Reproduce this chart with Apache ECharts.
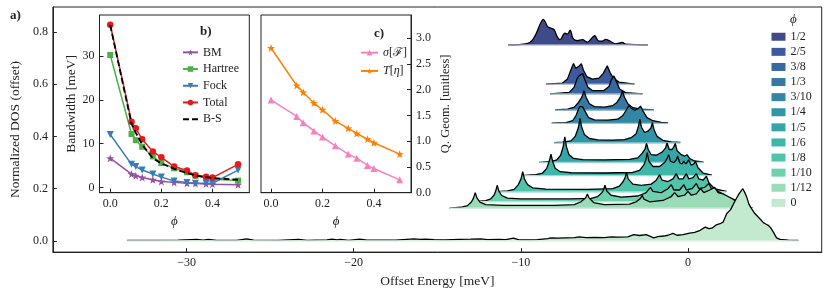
<!DOCTYPE html>
<html><head><meta charset="utf-8">
<script src="https://cdn.jsdelivr.net/npm/echarts@6/dist/echarts.min.js"></script>
<style>html,body{margin:0;padding:0;background:#fff}#c{width:830px;height:293px}</style>
</head><body><div id="c"></div>
<script>
// ---------------- DATA ----------------
const phiLabels = ['1/2','2/5','3/8','1/3','3/10','1/4','1/5','1/6','1/8','1/10','1/12','0'];
const offsets   = [0.75, 0.6, 0.5625, 0.5, 0.45, 0.375, 0.3, 0.25, 0.1875, 0.15, 0.125, 0];

const dos_1_2 = [[-10.75,0],[-9.64,0.005],[-9.34,0.016],[-9.05,0.048],[-8.85,0.079],[-8.66,0.098],[-8.54,0.088],[-8.40,0.070],[-8.21,0.064],[-8.01,0.058],[-7.81,0.029],[-7.65,0.020],[-7.37,0.045],[-7.21,0.041],[-7.05,0.056],[-6.88,0.025],[-6.62,0.016],[-6.32,0.020],[-6.02,0.011],[-5.58,0.035],[-5.38,0.016],[-5.13,0.014],[-4.93,0.021],[-4.63,0.013],[-4.33,0.004],[-3.93,0.010],[-3.74,0.003],[-2.41,0]];
const dos_2_5 = [[-8.5,0],[-7.51,0.004],[-7.21,0.02],[-7.01,0.054],[-6.85,0.079],[-6.71,0.06],[-6.62,0.058],[-6.5,0.07],[-6.38,0.078],[-6.26,0.054],[-6.06,0.029],[-5.72,0.019],[-5.33,0.023],[-5.07,0.041],[-4.83,0.07],[-4.67,0.045],[-4.47,0.023],[-4.13,0.008],[-3.2,0]];
const dos_3_8 = [[-8.25,0],[-7.11,0.006],[-6.82,0.025],[-6.62,0.06],[-6.52,0.069],[-6.42,0.063],[-6.3,0.078],[-6.18,0.056],[-5.98,0.025],[-5.72,0.013],[-5.03,0.013],[-4.73,0.028],[-4.57,0.056],[-4.43,0.069],[-4.29,0.048],[-4.09,0.019],[-3.74,0.005],[-2.72,0]];
const dos_1_3 = [[-7.95,0.001],[-7.2,0.004],[-6.8,0.012],[-6.55,0.03],[-6.35,0.05],[-6.22,0.075],[-6.1,0.05],[-5.9,0.025],[-5.6,0.014],[-5.0,0.012],[-4.5,0.018],[-4.25,0.03],[-4.05,0.05],[-3.93,0.073],[-3.8,0.05],[-3.6,0.025],[-3.3,0.01],[-2.8,0.004],[-2.05,0.001]];
const dos_3_10 = [[-8.15,0.001],[-7.3,0.003],[-6.9,0.01],[-6.7,0.03],[-6.55,0.055],[-6.46,0.065],[-6.38,0.058],[-6.3,0.062],[-6.26,0.065],[-6.15,0.045],[-5.95,0.022],[-5.6,0.013],[-4.8,0.012],[-4.2,0.016],[-3.9,0.03],[-3.7,0.05],[-3.54,0.068],[-3.4,0.058],[-3.2,0.05],[-3.0,0.055],[-2.84,0.066],[-2.7,0.048],[-2.45,0.022],[-2.1,0.01],[-1.6,0.004],[-1.19,0.002]];
const dos_1_4 = [[-8.0,0.001],[-7.5,0.003],[-7.0,0.008],[-6.75,0.025],[-6.56,0.058],[-6.46,0.094],[-6.36,0.06],[-6.2,0.032],[-5.9,0.017],[-5.4,0.012],[-4.5,0.011],[-3.8,0.013],[-3.4,0.02],[-3.1,0.035],[-2.98,0.06],[-2.88,0.09],[-2.78,0.06],[-2.6,0.04],[-2.4,0.045],[-2.23,0.056],[-2.13,0.078],[-2.03,0.05],[-1.85,0.025],[-1.5,0.01],[-1.0,0.004],[-0.46,0.002]];
const dos_1_5 = [[-8.9,0.001],[-8.2,0.004],[-7.85,0.01],[-7.62,0.028],[-7.47,0.06],[-7.37,0.098],[-7.27,0.06],[-7.12,0.03],[-6.85,0.016],[-6.3,0.011],[-5,0.01],[-3.5,0.012],[-3.0,0.018],[-2.75,0.035],[-2.58,0.05],[-2.48,0.073],[-2.38,0.05],[-2.2,0.03],[-1.9,0.028],[-1.55,0.04],[-1.35,0.055],[-1.25,0.075],[-1.12,0.05],[-0.95,0.05],[-0.85,0.06],[-0.76,0.073],[-0.65,0.045],[-0.4,0.03],[-0.2,0.025],[-0.06,0.03],[0.1,0.015],[0.4,0.006],[0.93,0.002]];
const dos_1_6 = [[-9.8,0.001],[-9.1,0.004],[-8.7,0.01],[-8.45,0.028],[-8.3,0.055],[-8.2,0.082],[-8.1,0.055],[-7.95,0.028],[-7.65,0.015],[-7.0,0.011],[-5,0.01],[-3.3,0.012],[-2.9,0.02],[-2.65,0.04],[-2.52,0.06],[-2.44,0.088],[-2.34,0.055],[-2.1,0.035],[-1.7,0.035],[-1.4,0.05],[-1.25,0.065],[-1.16,0.08],[-1.05,0.055],[-0.85,0.05],[-0.7,0.06],[-0.62,0.075],[-0.5,0.05],[-0.35,0.045],[-0.26,0.055],[-0.12,0.045],[0.04,0.06],[0.2,0.04],[0.35,0.045],[0.44,0.055],[0.6,0.03],[0.9,0.01],[1.43,0.002]];
const dos_1_8 = [[-11.4,0.001],[-10.8,0.004],[-10.4,0.01],[-10.15,0.028],[-9.99,0.05],[-9.89,0.078],[-9.79,0.05],[-9.6,0.028],[-9.3,0.016],[-8.5,0.011],[-6,0.01],[-4.5,0.013],[-4.1,0.022],[-3.88,0.04],[-3.76,0.055],[-3.68,0.075],[-3.58,0.05],[-3.3,0.03],[-2.8,0.025],[-2.2,0.03],[-1.9,0.045],[-1.7,0.066],[-1.55,0.045],[-1.2,0.04],[-0.9,0.05],[-0.7,0.07],[-0.55,0.05],[-0.3,0.05],[-0.1,0.07],[0.05,0.05],[0.3,0.055],[0.5,0.07],[0.65,0.05],[0.9,0.045],[1.1,0.06],[1.25,0.035],[1.6,0.012],[2.3,0.002]];
const dos_1_10 = [[-12.6,0.001],[-12.1,0.004],[-11.8,0.011],[-11.6,0.026],[-11.5,0.042],[-11.42,0.063],[-11.32,0.042],[-11.15,0.024],[-10.8,0.014],[-10,0.011],[-7,0.011],[-5.8,0.013],[-5.4,0.02],[-5.15,0.035],[-5.05,0.045],[-4.97,0.063],[-4.87,0.042],[-4.6,0.025],[-4.0,0.018],[-3.0,0.022],[-2.5,0.035],[-2.25,0.055],[-2.1,0.04],[-1.6,0.035],[-1.2,0.05],[-1.0,0.065],[-0.85,0.045],[-0.5,0.045],[-0.25,0.065],[-0.1,0.045],[0.25,0.05],[0.5,0.07],[0.65,0.05],[1.0,0.055],[1.25,0.07],[1.4,0.05],[1.8,0.04],[2.2,0.025],[2.6,0.01],[3.2,0.002]];
const dos_1_12 = [[-14.27,0.001],[-13.6,0.004],[-13.2,0.01],[-12.95,0.025],[-12.83,0.04],[-12.73,0.06],[-12.63,0.04],[-12.45,0.024],[-12.1,0.014],[-11,0.011],[-8,0.011],[-6.8,0.014],[-6.4,0.025],[-6.12,0.04],[-6.02,0.055],[-5.92,0.04],[-5.65,0.022],[-5,0.014],[-3.5,0.016],[-3.1,0.025],[-2.84,0.038],[-2.74,0.05],[-2.64,0.035],[-2.3,0.025],[-1.5,0.03],[-1.0,0.045],[-0.8,0.06],[-0.6,0.045],[-0.2,0.05],[0.0,0.065],[0.2,0.05],[0.5,0.055],[0.75,0.075],[0.95,0.06],[1.3,0.07],[1.6,0.08],[1.8,0.06],[2.1,0.055],[2.4,0.045],[2.7,0.035],[3.0,0.02],[3.3,0.008],[3.87,0.002]];
const dos_0 = [[-33.55,0.002],[-32,0.002],[-30.5,0.003],[-29.4,0.006],[-29.0,0.003],[-28.7,0.006],[-28.2,0.002],[-27,0.002],[-26.4,0.008],[-26.0,0.003],[-24.5,0.002],[-23.3,0.006],[-22.8,0.002],[-21.6,0.004],[-21.3,0.007],[-21.0,0.004],[-20.8,0.006],[-20.3,0.002],[-19.65,0.007],[-19.2,0.003],[-17.5,0.003],[-16.4,0.008],[-16.0,0.006],[-15.7,0.007],[-15.2,0.005],[-14.5,0.004],[-13.7,0.006],[-13.0,0.007],[-12.4,0.008],[-12.0,0.005],[-11.3,0.006],[-10.9,0.005],[-10.45,0.011],[-10.1,0.004],[-9.5,0.004],[-9.0,0.005],[-8.4,0.009],[-8.2,0.012],[-7.8,0.011],[-7.3,0.012],[-6.8,0.013],[-6.5,0.016],[-6.1,0.013],[-5.6,0.014],[-5.0,0.013],[-4.6,0.016],[-4.2,0.015],[-3.6,0.016],[-3.25,0.024],[-2.9,0.021],[-2.5,0.024],[-2.05,0.012],[-1.8,0.017],[-1.45,0.019],[-1.2,0.022],[-0.9,0.029],[-0.66,0.022],[-0.3,0.024],[0.1,0.03],[0.4,0.033],[0.73,0.041],[1.03,0.053],[1.25,0.047],[1.43,0.049],[1.7,0.062],[1.92,0.066],[2.1,0.072],[2.32,0.105],[2.55,0.12],[2.82,0.154],[3.05,0.18],[3.28,0.2],[3.4,0.185],[3.52,0.167],[3.65,0.14],[3.81,0.123],[4.0,0.105],[4.11,0.098],[4.3,0.085],[4.51,0.07],[4.65,0.065],[4.8,0.06],[4.95,0.05],[5.1,0.035],[5.3,0.012],[5.5,0.006],[6.0,0.003],[6.6,0.002]];
const ridgeCurves = [dos_1_2, dos_2_5, dos_3_8, dos_1_3, dos_3_10, dos_1_4, dos_1_5, dos_1_6, dos_1_8, dos_1_10, dos_1_12, dos_0];

// inset b
const phiB      = [0, 0.0833, 0.1, 0.125, 0.1667, 0.2, 0.25, 0.3, 0.3333, 0.375, 0.4, 0.5];
const bwBM      = [6.7, 3.1, 2.7, 2.3, 1.8, 1.4, 1.2, 1.0, 0.95, 0.85, 0.8, 0.65];
const bwHartree = [30.2, 12.2, 10.8, 9.3, 7.1, 5.6, 4.4, 3.5, 2.7, 2.2, 1.9, 1.6];
const bwFock    = [12.1, 5.3, 4.8, 4.0, 3.1, 2.4, 1.5, 1.2, 1.0, 1.0, 1.0, 4.0];
const bwTotal   = [37.1, 15.0, 13.5, 11.0, 8.2, 6.9, 4.8, 3.9, 2.8, 2.5, 2.3, 5.3];
const bwBS      = [37.0, 14.5, 12.5, 9.8, 6.7, 5.5, 4.3, 3.3, 2.8, 2.4, 2.2, 1.8];
// inset c
const phiC      = [0, 0.1, 0.125, 0.1667, 0.2, 0.25, 0.3, 0.3333, 0.375, 0.4, 0.5];
const sigmaF    = [1.80, 1.48, 1.36, 1.20, 1.08, 0.91, 0.75, 0.67, 0.53, 0.47, 0.25];
const traceEta  = [2.81, 2.08, 1.95, 1.74, 1.61, 1.39, 1.25, 1.15, 1.04, 0.97, 0.75];

// tick labels
const mainXTicks = [-30, -20, -10, 0];
const mainYTicks = [0, 0.2, 0.4, 0.6, 0.8];
const bXTicks = [0, 0.2, 0.4];
const bYTicks = [0, 10, 20, 30];
const cXTicks = [0, 0.2, 0.4];
const cYTicks = [0, 0.5, 1.0, 1.5, 2.0, 2.5, 3.0];

// ---------------- STYLE ----------------
const ridgeColors = ['#3e4a8a','#3c5a9d','#37689f','#3578a3','#3287a5','#3096a7','#34a6a9','#3eb6aa','#50c4ab','#6fd0ae','#9bdcb8','#c3e9cf'];
const FONT = 'Liberation Serif';
const FS = 12;
const TXT = '#222';
const STAR = 'path://M0,-10L2.35,-3.24L9.51,-3.09L3.8,1.24L5.88,8.09L0,4L-5.88,8.09L-3.8,1.24L-9.51,-3.09L-2.35,-3.24Z';
const cBM='#984ea3', cH='#4daf4a', cF='#377eb8', cT='#e41a1c', cPink='#f781bf', cOr='#ff7f00';

function minus(v){ return v < 0 ? '\u2212' + Math.abs(v) : String(v); }
function lighten(hex, f){
  const n = parseInt(hex.slice(1),16), r=n>>16, g=(n>>8)&255, b=n&255;
  const m = c => Math.round(c + (255-c)*f);
  return 'rgb('+m(r)+','+m(g)+','+m(b)+')';
}
function ax(gridIndex, min, max, ticks, fmt, name, nameGap, extra){
  return Object.assign({
    type:'value', gridIndex, min, max, name, nameGap, nameLocation:'middle',
    axisLine:{show:true, onZero:false, lineStyle:{color:TXT, width:1}},
    splitLine:{show:false},
    axisTick:{show:true, inside:true, length:4, customValues:ticks, lineStyle:{color:TXT, width:1}},
    axisLabel:{fontFamily:FONT, fontSize:FS, color:TXT, margin:5, customValues:ticks, formatter:fmt},
    nameTextStyle:{fontFamily:FONT, fontSize:13.5, color:TXT}
  }, extra || {});
}

const chart = echarts.init(document.getElementById('c'), null, {renderer:'canvas'});

const series = [];
ridgeCurves.forEach((pts, i) => {
  series.push({
    type:'line', name: phiLabels[i], xAxisIndex:0, yAxisIndex:0,
    data: pts.map(p => [p[0], p[1] + offsets[i]]),
    symbol:'none', showSymbol:false, smooth: i === 0 ? 0.35 : false,
    lineStyle:{color:'#000', width:1.3},
    itemStyle:{color: ridgeColors[i]},
    areaStyle:{color: ridgeColors[i], opacity:1, origin: offsets[i]},
    z: 2 + 2*i, silent:true
  });
  series.push({
    type:'line', xAxisIndex:0, yAxisIndex:0,
    data: [[pts[0][0], offsets[i]], [pts[pts.length-1][0], offsets[i]]],
    symbol:'none', showSymbol:false,
    lineStyle:{color: lighten(ridgeColors[i], 0.5), width:1.4},
    z: 3 + 2*i, silent:true
  });
});
function lineSer(name, xs, ys, xi, color, symbol, size, extra){
  return Object.assign({
    type:'line', name, xAxisIndex:xi, yAxisIndex:xi,
    data: xs.map((x,k)=>[x, ys[k]]),
    symbol, symbolSize:size, showAllSymbol:true,
    lineStyle:{color, width:1.5}, itemStyle:{color}, z:40, silent:true
  }, extra || {});
}
series.push(lineSer('BM', phiB, bwBM, 1, cBM, STAR, 8));
series.push(lineSer('Hartree', phiB, bwHartree, 1, cH, 'rect', 6));
series.push(lineSer('Fock', phiB, bwFock, 1, cF, 'triangle', 7, {symbolRotate:180}));
series.push(lineSer('Total', phiB, bwTotal, 1, cT, 'circle', 6.5));
series.push(lineSer('B-S', phiB, bwBS, 1, '#000', 'none', 1,
  {showSymbol:false, itemStyle:{color:'#000', opacity:0}, lineStyle:{color:'#000', width:1.8, type:[6,3]}, z:41}));
series.push(lineSer('σ[ℱ]', phiC, sigmaF, 2, cPink, 'triangle', 7));
series.push(lineSer('T[η]', phiC, traceEta, 2, cOr, STAR, 8));

const fmt1 = v => v.toFixed(1);
const phiName = {fontFamily:FONT, fontSize:13, fontStyle:'italic', color:TXT};
const option = {
  animation:false,
  backgroundColor:'#fff',
  grid:[
    {left:50, top:7, right:8.3, bottom:35.7, show:true, borderColor:TXT, borderWidth:1, backgroundColor:'transparent'},
    {left:99.5, top:15, width:149.8, height:177.7, show:true, borderColor:TXT, borderWidth:1, backgroundColor:'#fff', z:30},
    {left:261, top:15, width:150, height:177.7, show:true, borderColor:TXT, borderWidth:1, backgroundColor:'#fff', z:30}
  ],
  xAxis:[
    ax(0, -38, 8, mainXTicks, minus, 'Offset Energy [meV]', 20),
    ax(1, -0.042, 0.544, bXTicks, fmt1, 'ϕ', 16, {z:31, nameTextStyle:phiName}),
    ax(2, -0.039, 0.544, cXTicks, fmt1, 'ϕ', 16, {z:31, nameTextStyle:phiName})
  ],
  yAxis:[
    ax(0, -0.0425, 0.895, mainYTicks, fmt1, 'Normalized DOS (offset)', 19),
    ax(1, -1.15, 39.3, bYTicks, String, 'Bandwidth [meV]', 7, {z:31, nameTextStyle:{fontFamily:FONT, fontSize:13.5, color:TXT}}),
    ax(2, 0, 3.45, cYTicks, fmt1, 'Q. Geom. [unitless]', 28, {z:31, position:'right', nameRotate:90, nameTextStyle:{fontFamily:FONT, fontSize:12.5, color:TXT}})
  ],
  legend:[
    {data: phiLabels.map((n,i)=>({name:n, icon:'rect', itemStyle:{color:ridgeColors[i], borderWidth:0}})),
     orient:'vertical', left:771.5, top:29.2, padding:0, itemWidth:14, itemHeight:8, itemGap:0,
     selectedMode:false, textStyle:{fontFamily:FONT, fontSize:FS, color:TXT, lineHeight:15.1}},
    {data:['BM','Hartree','Fock','Total',{name:'B-S', itemStyle:{opacity:0}}], orient:'vertical', left:182, top:44, padding:0, itemWidth:15, itemHeight:7, itemGap:0,
     selectedMode:false, textStyle:{fontFamily:FONT, fontSize:FS, color:TXT, lineHeight:16.7}, z:50},
    {data:['σ[ℱ]','T[η]'], orient:'vertical', left:360, top:43.5, padding:0, itemWidth:17, itemHeight:7, itemGap:0,
     selectedMode:false, z:50,
     formatter: n => n === 'σ[ℱ]' ? '{i|σ}[ℱ]' : '{i|T}[{i|η}]',
     textStyle:{fontFamily:FONT, fontSize:FS, color:TXT, lineHeight:18.3,
       rich:{i:{fontFamily:FONT, fontSize:FS, fontStyle:'italic', color:TXT}}}}
  ],
  graphic:[
    {type:'text', left:10, top:9, style:{text:'a)', font:'bold 13px "Liberation Serif"', fill:TXT}},
    {type:'text', left:200, top:25, z:60, style:{text:'b)', font:'bold 13px "Liberation Serif"', fill:TXT}},
    {type:'text', left:374, top:27, z:60, style:{text:'c)', font:'bold 13px "Liberation Serif"', fill:TXT}},
    {type:'text', left:790, top:13, style:{text:'ϕ', font:'italic 13px "Liberation Serif"', fill:TXT}}
  ],
  series
};
chart.setOption(option);
</script></body></html>
